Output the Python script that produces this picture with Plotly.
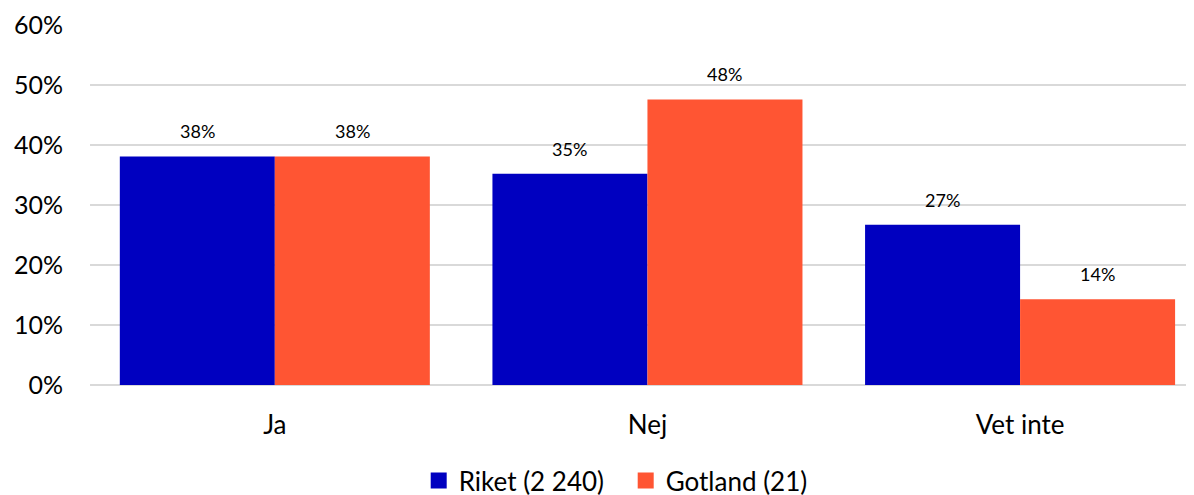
import plotly.graph_objects as go

categories = ["Ja", "Nej", "Vet inte"]
riket = [0.381, 0.352, 0.267]
gotland = [0.381, 0.476, 0.143]
series_names = ["Riket (2 240)", "Gotland (21)"]
colors = ["#0000C0", "#FF5533"]
y_ticks = [0, 0.1, 0.2, 0.3, 0.4, 0.5, 0.6]
y_tick_labels = ["0%", "10%", "20%", "30%", "40%", "50%", "60%"]

FONT = "Lato, Open Sans, sans-serif"

fig = go.Figure()
for name, vals, col in zip(series_names, (riket, gotland), colors):
    fig.add_trace(go.Bar(
        name=name, x=categories, y=vals, showlegend=False,
        marker=dict(color=col, line=dict(width=0)),
    ))
# legend entries with larger square swatches
for name, col in zip(series_names, colors):
    fig.add_trace(go.Scatter(
        name=name, x=[None], y=[None], mode="markers",
        marker=dict(symbol="square", size=17, color=col),
    ))

# data labels above bars (offset to the left/right bar of each group)
group_w = 0.832
for offset, vals in ((-group_w / 4, riket), (group_w / 4, gotland)):
    for i, v in enumerate(vals):
        fig.add_annotation(
            x=i + offset, y=v, text=f"{round(v*100)}%", showarrow=False,
            xref="x", yref="y", yanchor="bottom", yshift=12,
            font=dict(size=18, color="#000000", family=FONT),
        )

fig.update_layout(
    width=1194, height=495,
    margin=dict(l=82, r=12, t=17, b=118, autoexpand=False),
    paper_bgcolor="white", plot_bgcolor="white",
    barmode="group", bargap=0.168, bargroupgap=0,
    font=dict(family=FONT, size=25, color="#000000"),
    showlegend=True,
    legend=dict(orientation="h", x=0.487, xanchor="center", y=-0.2, yanchor="top",
                font=dict(size=26), traceorder="normal", itemsizing="trace",
                entrywidth=162, entrywidthmode="pixels"),
    xaxis=dict(range=[-0.496, 2.456], showgrid=False, showline=False, ticks="",
               tickfont=dict(size=26), ticklabelstandoff=22, automargin=False),
    yaxis=dict(range=[0, 0.6], tickvals=y_ticks, ticktext=y_tick_labels,
               showgrid=True, gridcolor="#D9D9D9", gridwidth=2,
               zeroline=True, zerolinecolor="#D9D9D9", zerolinewidth=2,
               showline=False, ticks="", tickfont=dict(size=25), ticklabelstandoff=26,
               automargin=False),
)

fig.write_html("out.html")
